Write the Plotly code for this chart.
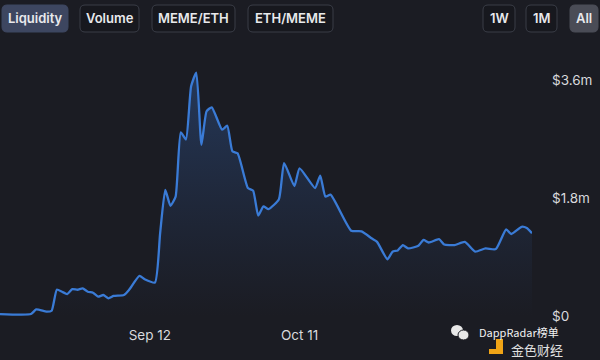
import plotly.graph_objects as go

# ---- data ----
dates = [
    "2023-08-14", "2023-08-20", "2023-08-21", "2023-08-23", "2023-08-24", "2023-08-25",
    "2023-08-26", "2023-08-27", "2023-08-28", "2023-08-29", "2023-08-30", "2023-08-31",
    "2023-09-01", "2023-09-02", "2023-09-03", "2023-09-04", "2023-09-05", "2023-09-07",
    "2023-09-08", "2023-09-10", "2023-09-11", "2023-09-13", "2023-09-14", "2023-09-15",
    "2023-09-16", "2023-09-17", "2023-09-18", "2023-09-19", "2023-09-20", "2023-09-21",
    "2023-09-22", "2023-09-23", "2023-09-24", "2023-09-26", "2023-09-27", "2023-09-28",
    "2023-09-29", "2023-10-01", "2023-10-02", "2023-10-03", "2023-10-04", "2023-10-05",
    "2023-10-07", "2023-10-08", "2023-10-10", "2023-10-11", "2023-10-14", "2023-10-15",
    "2023-10-16", "2023-10-17", "2023-10-21", "2023-10-23", "2023-10-25", "2023-10-26",
    "2023-10-28", "2023-10-29", "2023-10-30", "2023-10-31", "2023-11-01", "2023-11-03",
    "2023-11-04", "2023-11-05", "2023-11-07", "2023-11-08", "2023-11-10", "2023-11-12",
    "2023-11-14", "2023-11-16", "2023-11-18", "2023-11-20", "2023-11-21", "2023-11-23",
    "2023-11-24", "2023-11-25",
]
liquidity_m = [
    0.03, 0.03, 0.10, 0.066, 0.08, 0.40,
    0.37, 0.335, 0.41, 0.40, 0.42, 0.37,
    0.355, 0.295, 0.32, 0.27, 0.305, 0.32,
    0.40, 0.61, 0.56, 0.51, 1.26, 1.92,
    1.68, 1.82, 2.80, 2.69, 3.50, 3.71,
    2.61, 3.12, 3.18, 2.84, 2.90, 2.51,
    2.48, 1.95, 1.91, 1.53, 1.67, 1.63,
    1.78, 2.33, 1.98, 2.25, 1.95, 2.14,
    1.82, 1.85, 1.30, 1.29, 1.18, 1.13,
    0.865, 0.98, 1.00, 1.08, 1.03, 1.07,
    1.16, 1.12, 1.17, 1.09, 1.08, 1.13,
    0.98, 1.03, 1.02, 1.32, 1.25, 1.36,
    1.34, 1.26,
]
liquidity = [v * 1e6 for v in liquidity_m]

x_tick_vals = ["2023-09-12", "2023-10-11"]
x_tick_text = ["Sep 12", "Oct 11"]
y_tick_vals = [0, 1.8e6, 3.6e6]
y_tick_text = ["$0", "$1.8m", "$3.6m"]

left_buttons = ["Liquidity", "Volume", "MEME/ETH", "ETH/MEME"]
right_buttons = ["1W", "1M", "All"]

# ---- layout geometry ----
W, H = 600, 360
L, R, T, B = 0, 68, 45, 40
PW, PH = W - L - R, H - T - B

def px(x):
    return (x - L) / PW

def py(y):
    return (H - B - y) / PH

def rrect(x0, y0, x1, y1, r=5):
    return (
        f"M {px(x0 + r)} {py(y0)} L {px(x1 - r)} {py(y0)} "
        f"Q {px(x1)} {py(y0)} {px(x1)} {py(y0 + r)} "
        f"L {px(x1)} {py(y1 - r)} Q {px(x1)} {py(y1)} {px(x1 - r)} {py(y1)} "
        f"L {px(x0 + r)} {py(y1)} Q {px(x0)} {py(y1)} {px(x0)} {py(y1 - r)} "
        f"L {px(x0)} {py(y0 + r)} Q {px(x0)} {py(y0)} {px(x0 + r)} {py(y0)} Z"
    )

BG = "#1b1c23"
LINE = "#3a7bd6"
TXT = "#e8e9ec"
AXT = "#d8d9dd"

fig = go.Figure()
fig.add_trace(go.Scatter(
    x=dates, y=liquidity, mode="lines",
    line=dict(color=LINE, width=2.3, shape="spline", smoothing=0.5),
    fill="tozeroy",
    fillgradient=dict(type="vertical",
                      colorscale=[[0, "rgba(45,80,140,0.0)"], [1, "rgba(50,95,165,0.42)"]]),
    hoverinfo="skip", showlegend=False,
))

shapes = []
annotations = []

def add_button(x0, x1, label, sel, sel_color):
    shapes.append(dict(type="path", path=rrect(x0, 5, x1, 32), xref="paper", yref="paper",
                       fillcolor=sel_color if sel else "#17181e",
                       line=dict(color=sel_color if sel else "#3a3d47", width=1), layer="above"))
    annotations.append(dict(x=px((x0 + x1) / 2), y=py(18.5), xref="paper", yref="paper",
                            xanchor="center", yanchor="middle",
                            text=label, showarrow=False,
                            font=dict(family="Inter", size=13, color=TXT, weight=600)))

for (x0, x1), label in zip([(2, 68), (80, 139), (152, 235), (248, 333)], left_buttons):
    add_button(x0, x1, label, label == "Liquidity", "#3d4660")
for (x0, x1), label in zip([(483, 515), (526, 557), (570, 598)], right_buttons):
    add_button(x0, x1, label, label == "All", "#4a4c56")

# watermark
annotations.append(dict(x=px(477), y=py(332), xref="paper", yref="paper",
                        xanchor="left", yanchor="middle",
                        text="DappRadar榜单", showarrow=False,
                        font=dict(family="Noto Sans CJK SC", size=11, color="#f2f2f2")))
annotations.append(dict(x=px(509), y=py(349.5), xref="paper", yref="paper",
                        xanchor="left", yanchor="middle",
                        text="金色财经", showarrow=False,
                        font=dict(family="Noto Sans CJK SC", size=13, color="#e0e0e0")))
shapes.append(dict(type="path", xref="paper", yref="paper", layer="above",
                   path=f"M {px(496)} {py(339)} L {px(503)} {py(339)} L {px(503)} {py(354)} "
                        f"L {px(489)} {py(354)} L {px(489)} {py(349)} L {px(496)} {py(349)} Z",
                   fillcolor="#f0a416", line=dict(width=0)))
shapes.append(dict(type="circle", xref="paper", yref="paper", layer="above",
                   x0=px(451), x1=px(463), y0=py(336), y1=py(325),
                   fillcolor="#e8e8e8", line=dict(width=0)))
shapes.append(dict(type="circle", xref="paper", yref="paper", layer="above",
                   x0=px(458), x1=px(469), y0=py(340), y1=py(330),
                   fillcolor="#e8e8e8", line=dict(color=BG, width=1)))

fig.update_layout(
    width=W, height=H,
    margin=dict(l=L, r=R, t=T, b=B),
    paper_bgcolor=BG, plot_bgcolor=BG,
    font=dict(family="Inter", color=AXT, size=13.5),
    shapes=shapes, annotations=annotations,
    xaxis=dict(type="date", range=["2023-08-14", "2023-11-25"],
               showgrid=False, zeroline=False, showline=False, ticks="",
               tickvals=x_tick_vals, ticktext=x_tick_text,
               tickfont=dict(size=13.5, color=AXT), ticklabelstandoff=5,
               fixedrange=True),
    yaxis=dict(side="right", range=[-0.061e6, 4.13e6],
               showgrid=False, zeroline=False, showline=False, ticks="",
               tickvals=y_tick_vals, ticktext=y_tick_text,
               tickfont=dict(size=13.5, color=AXT), ticklabelstandoff=19,
               fixedrange=True),
)

fig.write_html("out.html", config=dict(displayModeBar=False),
               post_script="document.body.style.margin='0';document.body.style.background='#1b1c23';")
